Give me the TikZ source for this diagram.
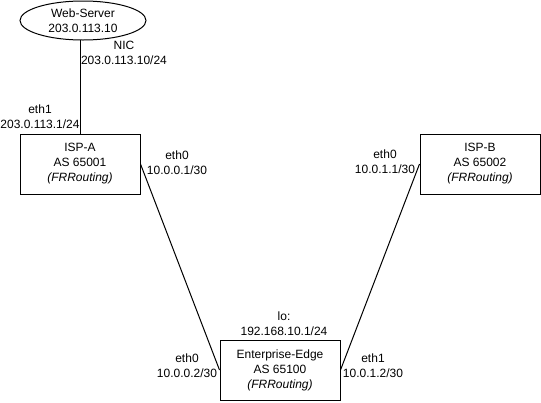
\documentclass[tikz,border=0pt]{standalone}
\usepackage{fontspec}
\setmainfont{Liberation Sans}
\usetikzlibrary{shapes.geometric}
\begin{document}
\begin{tikzpicture}[x=1pt,y=-1pt,
  every node/.style={font=\fontsize{12}{15}\selectfont},
  router/.style={draw, line width=1pt, minimum width=120pt, minimum height=60pt, align=center, inner sep=0pt},
  host/.style={draw, ellipse, line width=1pt, minimum width=126pt, minimum height=39pt, align=center, inner sep=0pt},
  lab/.style={align=center, inner sep=0pt},
  link/.style={line width=1pt}]
\useasboundingbox (0,0) rectangle (541,402);
\node[host] (web) at (83,20.5) {Web-Server\\203.0.113.10};
\node[router] (ispa) at (80,164) {ISP-A\\AS 65001\\\textit{(FRRouting)}};
\node[router] (ispb) at (480,164) {ISP-B\\AS 65002\\\textit{(FRRouting)}};
\node[router] (ee) at (280,370) {Enterprise-Edge\\AS 65100\\\textit{(FRRouting)}};
\coordinate (webb) at (80,40);
\draw[link] (webb) -- (ispa.north);
\draw[link] (ispa.east) -- (ee.west);
\draw[link] (ispb.west) -- (ee.east);
\node[lab] (nic) at (124,53) {NIC\\203.0.113.10/24};
\node[lab] (eth1a) at (40,117) {eth1\\203.0.113.1/24};
\node[lab] (eth0a) at (177,163) {eth0\\10.0.0.1/30};
\node[lab] (eth0b) at (385,162) {eth0\\10.0.1.1/30};
\node[lab] (lo) at (284,324) {lo:\\192.168.10.1/24};
\node[lab] (eth0e) at (187,366) {eth0\\10.0.0.2/30};
\node[lab] (eth1e) at (373,366) {eth1\\10.0.1.2/30};
\end{tikzpicture}
\end{document}
